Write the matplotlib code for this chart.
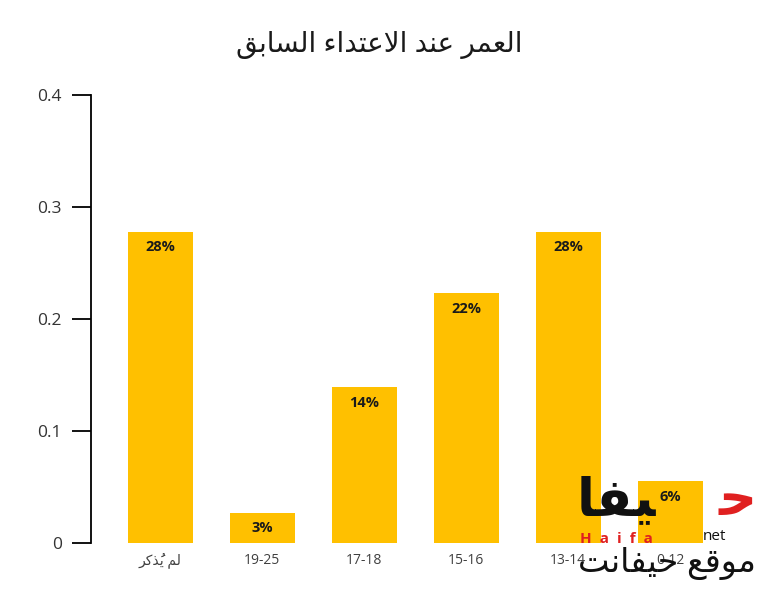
#!/usr/bin/env python3
# Bar chart: age at the previous assault (share of cases per age group).
# Arabic strings are written as pre-shaped presentation forms in visual
# order, since matplotlib does no Arabic shaping / bidi on its own.

import matplotlib
matplotlib.use("Agg")
import matplotlib.pyplot as plt
from matplotlib import font_manager

# ---------------------------------------------------------------------------
# Data
# ---------------------------------------------------------------------------

# "لم يُذكر" (not stated), shaped + visual order
NOT_STATED = "\uFEAE\uFEDB\uFEAC\u064F\uFEF3 \uFEE2\uFEDF"
categories = [NOT_STATED, "19-25", "17-18", "15-16", "13-14", "0-12"]
values = [0.278, 0.027, 0.139, 0.223, 0.278, 0.055]
value_labels = ["28%", "3%", "14%", "22%", "28%", "6%"]
y_ticks = [0, 0.1, 0.2, 0.3, 0.4]
y_tick_labels = ["0", "0.1", "0.2", "0.3", "0.4"]

# "العمر عند الاعتداء السابق"
TITLE = ("\uFED6\uFE91\uFE8E\uFEB4\uFEDF\uFE8D "
         "\uFE80\uFE8D\uFEAA\uFE98\uFECB\uFEFB\uFE8D "
         "\uFEAA\uFEE8\uFECB "
         "\uFEAE\uFEE4\uFECC\uFEDF\uFE8D")
# watermark pieces
LOGO = "\uFE8E\uFED4\uFEF4"          # "يفا" part of the logo
LOGO_HAH = "\uFEA3"                  # red "ح"
SITE = "\uFE96\uFEE7\uFE8E\uFED4\uFEF4\uFEA3 \uFECA\uFED7\uFEEE\uFEE3"

BAR_COLOR = "#FFC000"
FONTS = ["Open Sans", "DejaVu Sans"]

plt.rcParams["font.family"] = FONTS

# bold face for the bar labels: use one that really has a bold cut
bold_family = "DejaVu Sans"
for fam in ["Open Sans", "Lato", "Roboto", "Noto Sans"]:
    try:
        path = font_manager.findfont(
            font_manager.FontProperties(family=fam, weight="bold"),
            fallback_to_default=False)
        if "bold" in path.lower():
            bold_family = fam
            break
    except Exception:
        pass

fig = plt.figure(figsize=(7.68, 5.96), dpi=100)
fig.patch.set_facecolor("white")
ax = fig.add_axes([91 / 768, 1 - 543 / 596, (739.5 - 91) / 768, 448 / 596])

x = list(range(len(categories)))
bars = ax.bar(x, values, width=0.64, color=BAR_COLOR, zorder=2)

for b, lbl in zip(bars, value_labels):
    ax.annotate(lbl, (b.get_x() + b.get_width() / 2, b.get_height()),
                textcoords="offset points", xytext=(0, -11),
                ha="center", va="center", fontsize=10.5,
                family=bold_family, fontweight="bold",
                color="#1a1a1a", zorder=3)

ax.set_xlim(-0.68, len(categories) - 1 + 0.68)
ax.set_ylim(0, 0.4)
ax.set_xticks(x)
ax.set_xticklabels(categories, fontsize=10, color="#404040")
ax.set_yticks(y_ticks)
ax.set_yticklabels(y_tick_labels, fontsize=12.5, color="#333333")

ax.tick_params(axis="x", length=0, pad=7)
ax.tick_params(axis="y", length=14, width=1.3, color="black", pad=7)

for side in ["top", "right", "bottom"]:
    ax.spines[side].set_visible(False)
ax.spines["left"].set_linewidth(1.3)
ax.spines["left"].set_color("black")

fig.text(0.5 - 5 / 768, 1 - 45 / 596, TITLE, ha="center", va="center",
         fontsize=20, color="#1a1a1a")

# ---- watermark (Haifa net) ----
fig.text(577 / 768, 1 - 500 / 596, LOGO, ha="left", va="center",
         fontsize=38, fontweight="bold", family="DejaVu Sans",
         color="#111111")
fig.text(757 / 768, 1 - 500 / 596, LOGO_HAH, ha="right", va="center",
         fontsize=38, fontweight="bold", family="DejaVu Sans",
         color="#E02020")
fig.text(580 / 768, 1 - 539 / 596, "H  a  i  f  a", ha="left", va="center",
         fontsize=11, fontweight="bold", family=bold_family,
         color="#E02020")
fig.text(703 / 768, 1 - 537 / 596, "net", ha="left", va="center",
         fontsize=11, color="#111111")
fig.text(756 / 768, 1 - 563 / 596, SITE, ha="right", va="center",
         fontsize=24, color="#111111")

fig.savefig("out.png", dpi=100, facecolor="white")
plt.close(fig)
